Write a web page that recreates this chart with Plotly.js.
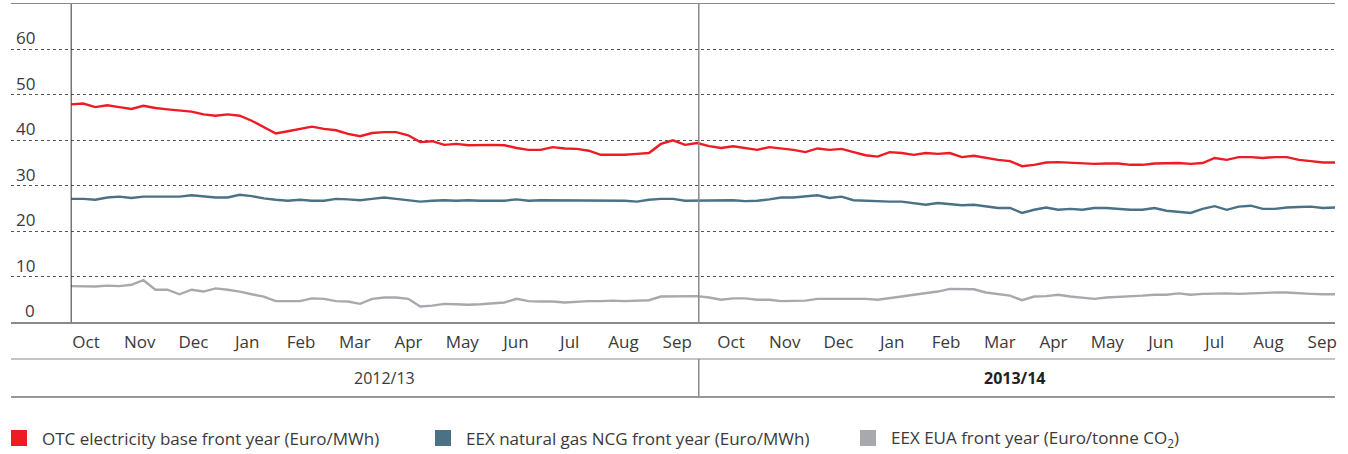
<!DOCTYPE html>
<html>
<head>
<meta charset="utf-8">
<script src="https://cdn.plot.ly/plotly-3.0.1.min.js"></script>
<style>html,body{margin:0;padding:0;background:#fff;}#chart{width:1348px;height:454px;}</style>
</head>
<body>
<div id="chart"></div>
<script>
// Weekly samples starting 1 Oct 2012
const startDate = '2012-10-01';
const stepDays = 7;

const electricity = [
47.9,48.1,47.3,47.7,47.3,46.9,47.6,47.1,46.8,46.5,46.3,45.7,45.4,45.7,45.4,44.3,42.9,41.5,42.0,42.5,
43.0,42.5,42.2,41.4,40.9,41.6,41.8,41.8,41.1,39.6,39.8,39.0,39.2,38.9,39.0,39.0,38.9,38.3,37.9,37.9,
38.5,38.2,38.1,37.7,36.8,36.8,36.8,37.0,37.2,39.2,40.0,39.0,39.4,38.7,38.3,38.7,38.3,37.9,38.5,38.2,
37.9,37.4,38.2,37.9,38.1,37.4,36.7,36.4,37.4,37.2,36.8,37.2,37.0,37.2,36.3,36.6,36.1,35.7,35.4,34.3,
34.6,35.1,35.2,35.1,35.0,34.8,34.9,34.9,34.6,34.6,34.9,35.0,35.0,34.8,35.0,36.1,35.7,36.3,36.3,36.1,
36.3,36.3,35.7,35.4,35.1,35.1
];
const gas = [
27.1,27.1,26.9,27.4,27.6,27.3,27.6,27.6,27.7,27.6,27.9,27.6,27.4,27.4,28.0,27.7,27.2,26.9,26.7,26.9,
26.7,26.7,27.1,27.0,26.8,27.1,27.4,27.1,26.8,26.5,26.7,26.8,26.7,26.8,26.7,26.7,26.7,27.0,26.7,26.8,
26.8,26.8,26.8,26.7,26.7,26.7,26.7,26.5,26.9,27.1,27.1,26.7,26.7,26.8,26.8,26.8,26.6,26.7,27.0,27.4,
27.4,27.7,27.9,27.3,27.6,26.8,26.7,26.5,26.5,26.5,26.2,25.8,26.2,26.0,25.7,25.8,25.4,25.1,25.1,24.0,
24.7,25.2,24.7,24.9,24.7,25.1,25.1,24.9,24.7,24.7,25.1,24.5,24.2,24.0,24.9,25.5,24.7,25.4,25.6,24.9,
24.9,25.2,25.3,25.4,25.1,25.2
];
const eua = [
7.9,7.9,7.8,8.0,7.9,8.2,9.2,7.1,7.1,6.1,7.1,6.7,7.4,7.1,6.7,6.1,5.6,4.6,4.6,4.6,
5.2,5.1,4.6,4.5,4.0,5.1,5.4,5.4,5.1,3.4,3.6,4.0,3.9,3.8,3.9,4.1,4.3,5.1,4.6,4.5,
4.5,4.3,4.5,4.6,4.6,4.7,4.6,4.7,4.8,5.6,5.6,5.7,5.7,5.4,4.9,5.2,5.2,4.9,4.9,4.6,
4.6,4.7,5.1,5.1,5.2,5.2,5.1,4.9,5.2,5.6,6.0,6.3,6.7,7.3,7.3,7.2,6.5,6.2,5.8,4.8,
5.6,5.7,6.0,5.6,5.4,5.1,5.4,5.5,5.7,5.8,6.0,6.0,6.3,6.0,6.2,6.3,6.3,6.2,6.3,6.5,
6.5,6.5,6.3,6.2,6.1,6.1
];

const monthLabels = ['Oct','Nov','Dec','Jan','Feb','Mar','Apr','May','Jun','Jul','Aug','Sep',
                     'Oct','Nov','Dec','Jan','Feb','Mar','Apr','May','Jun','Jul','Aug','Sep'];
const yearLabels = ['2012/13','2013/14'];
const yearStarts = ['2012-10-01','2013-10-01'];
const yearMids = ['2013-04-01','2014-04-03'];
const yTicks = [0,10,20,30,40,50,60];
const seriesNames = ['OTC electricity base front year (Euro/MWh)',
                     'EEX natural gas NCG front year (Euro/MWh)',
                     'EEX EUA front year (Euro/tonne CO<sub>2</sub>)'];
const seriesColors = ['#ED1C24','#4A7185','#A7A9AC'];

// build date axis values
const t0 = Date.parse(startDate + 'T00:00:00Z');
const dates = electricity.map((_, k) => new Date(t0 + k*stepDays*86400000).toISOString().slice(0,10));

const FONT = 'Open Sans, sans-serif';
const TXT = '#3a3a3a';

const traces = [electricity, gas, eua].map((vals, i) => ({
  type: 'scatter', mode: 'lines', x: dates, y: vals, name: seriesNames[i],
  line: {color: seriesColors[i], width: 2.4, shape: 'linear'},
  showlegend: false, hoverinfo: 'x+y'
}));
// carrier for month label axis
traces.push({type:'scatter', mode:'lines', x:[0, monthLabels.length-1], y:[null,null],
  xaxis:'x2', yaxis:'y', showlegend:false, hoverinfo:'skip'});

const plotL = 11, plotR = 1335, plotT = 4, plotB = 322;
const W = plotR - plotL, H = plotB - plotT;
const px = p => (p - plotL) / W;      // pixel -> paper x
const py = p => (plotB - p) / H;      // pixel -> paper y

const shapes = [];
const annotations = [];

// left frame line and year divider
shapes.push({type:'line', xref:'x', yref:'paper', x0:yearStarts[0], x1:yearStarts[0], y0:0, y1:1,
  line:{color:'#333', width:1}});
shapes.push({type:'line', xref:'x', yref:'paper', x0:yearStarts[1], x1:yearStarts[1], y0:0, y1:1,
  line:{color:'#8a8a8a', width:1.5}});
// year band
shapes.push({type:'line', xref:'paper', yref:'paper', x0:0, x1:1, y0:py(359), y1:py(359),
  line:{color:'#8a8a8a', width:1.2}});
shapes.push({type:'line', xref:'paper', yref:'paper', x0:0, x1:1, y0:py(397), y1:py(397),
  line:{color:'#333', width:1.2}});
shapes.push({type:'line', xref:'x', yref:'paper', x0:yearStarts[1], x1:yearStarts[1], y0:py(359), y1:py(397),
  line:{color:'#8a8a8a', width:1.5}});

// y labels
yTicks.forEach(v => annotations.push({xref:'paper', yref:'y', x:px(37), y:v, xanchor:'right', yanchor:'bottom',
  yshift:-2, text:String(v), showarrow:false, font:{family:FONT, size:17, color:TXT}}));

// year labels
yearLabels.forEach((t, i) => annotations.push({xref:'x', yref:'paper', x:yearMids[i], y:py(378),
  xanchor:'center', yanchor:'middle', text: i === 1 ? '<b>'+t+'</b>' : t, showarrow:false,
  font:{family:FONT, size:16, color: i === 1 ? '#222' : TXT}}));

// legend
const legSq = [11, 435, 860];
seriesNames.forEach((n, i) => {
  shapes.push({type:'rect', xref:'paper', yref:'paper', x0:px(legSq[i]), x1:px(legSq[i]+16),
    y0:py(430), y1:py(446), fillcolor:seriesColors[i], line:{width:0}});
  annotations.push({xref:'paper', yref:'paper', x:px(legSq[i]+29), y:py(438), xanchor:'left', yanchor:'middle',
    text:n, showarrow:false, font:{family:FONT, size:17, color:TXT}});
});

const labelStart = 86, labelStep = 53.75;
const layout = {
  width:1348, height:454,
  margin:{l:plotL, r:1348-plotR, t:plotT, b:454-plotB, pad:0},
  paper_bgcolor:'#fff', plot_bgcolor:'#fff',
  font:{family:FONT, color:TXT},
  xaxis:{type:'date', range:['2012-08-27','2014-10-06'], showticklabels:false, showgrid:false,
    zeroline:false, showline:true, mirror:true, linecolor:'#8a8a8a', linewidth:1.5, ticks:''},
  xaxis2:{overlaying:'x', anchor:'y', side:'bottom', type:'linear',
    range:[(plotL-labelStart)/labelStep, (plotR-labelStart)/labelStep],
    tickmode:'array', tickvals: monthLabels.map((_, i) => i), ticktext: monthLabels,
    showgrid:false, zeroline:false, showline:false, ticks:'', ticklabelstandoff:8,
    tickfont:{family:FONT, size:17, color:TXT}},
  yaxis:{range:[0,70], tickmode:'array', tickvals:yTicks.slice(1), showticklabels:false,
    showgrid:true, gridcolor:'#555', gridwidth:1, griddash:'3px,3px', zeroline:false, showline:false, ticks:''},
  shapes, annotations, showlegend:false
};

Plotly.newPlot('chart', traces, layout, {displayModeBar:false, staticPlot:true});
</script>
</body>
</html>
